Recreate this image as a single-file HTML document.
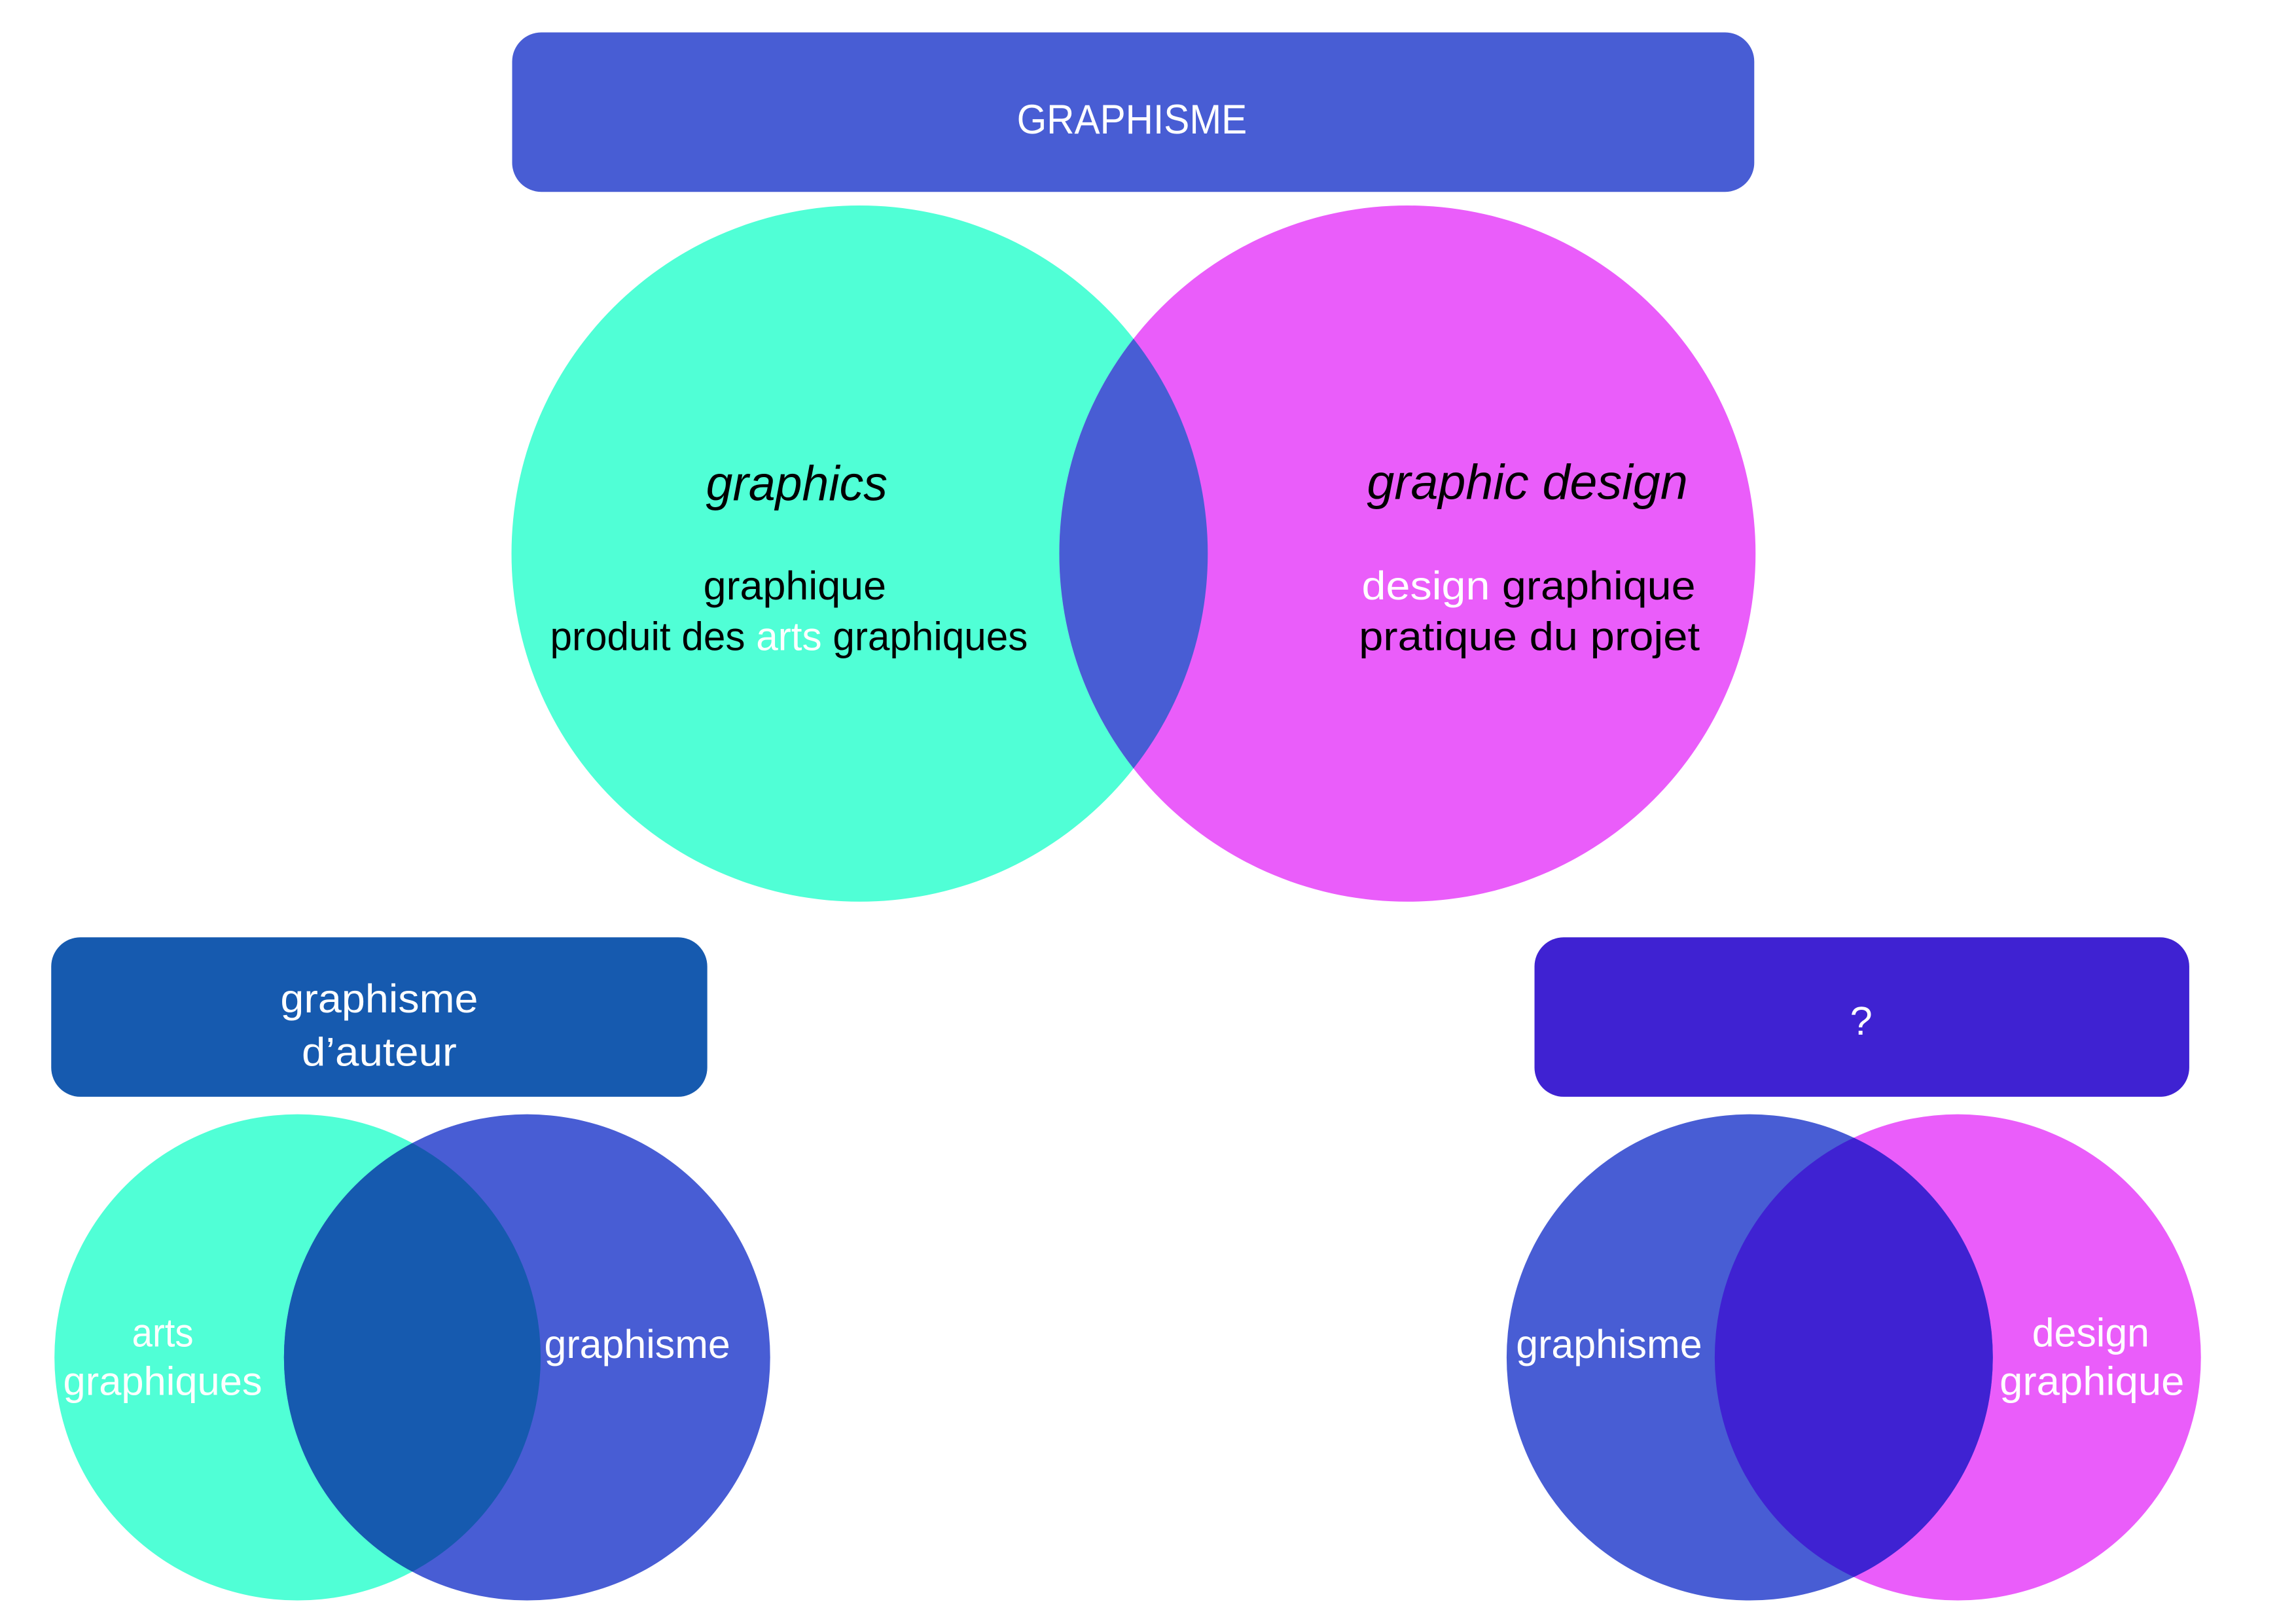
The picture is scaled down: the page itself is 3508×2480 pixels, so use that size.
<!DOCTYPE html>
<html><head><meta charset="utf-8"><style>html,body{margin:0;padding:0;background:#fff}svg{display:block}</style></head>
<body>
<svg width="3508" height="2480" viewBox="0 0 3508 2480" xmlns="http://www.w3.org/2000/svg" font-family="'Liberation Sans', sans-serif">
<defs>
<clipPath id="cT"><circle cx="1326" cy="854" r="537"/></clipPath>
<clipPath id="cL"><circle cx="459" cy="2094" r="375"/></clipPath>
<clipPath id="cR"><circle cx="2699" cy="2094" r="375"/></clipPath>
</defs>
<g transform="scale(0.9905)">
<rect x="790" y="50" width="1916" height="246" rx="45" fill="#485DD4"/>
<rect x="79" y="1446" width="1012" height="246" rx="45" fill="#165AAF"/>
<rect x="2367" y="1446" width="1010" height="246" rx="45" fill="#3F22D2"/>

<circle cx="1326" cy="854" r="537" fill="#50FFD6"/>
<circle cx="2171" cy="854" r="537" fill="#EA5DFA"/>
<circle cx="2171" cy="854" r="537" fill="#485DD4" clip-path="url(#cT)"/>

<circle cx="459" cy="2094" r="375" fill="#50FFD6"/>
<circle cx="813" cy="2094" r="375" fill="#485DD4"/>
<circle cx="813" cy="2094" r="375" fill="#165AAF" clip-path="url(#cL)"/>

<circle cx="3020" cy="2094" r="375" fill="#EA5DFA"/>
<circle cx="2699" cy="2094" r="375" fill="#485DD4"/>
<circle cx="3020" cy="2094" r="375" fill="#3F22D2" clip-path="url(#cR)"/>

<g text-anchor="middle" font-size="62">
<text x="1746" y="206" fill="#fff" font-size="64" textLength="355" lengthAdjust="spacingAndGlyphs">GRAPHISME</text>
<text x="1229" y="772" fill="#000" font-size="76" font-style="italic" textLength="280" lengthAdjust="spacingAndGlyphs">graphics</text>
<text x="1226" y="925" fill="#000" textLength="282" lengthAdjust="spacingAndGlyphs">graphique</text>
<text x="1217" y="1003" fill="#000" textLength="737" lengthAdjust="spacingAndGlyphs">produit des <tspan fill="#fff">arts</tspan> graphiques</text>
<text x="2356" y="770" fill="#000" font-size="76" font-style="italic" textLength="495" lengthAdjust="spacingAndGlyphs">graphic design</text>
<text x="2358" y="925" fill="#000" textLength="515" lengthAdjust="spacingAndGlyphs"><tspan fill="#fff">design</tspan> graphique</text>
<text x="2359" y="1003" fill="#000" textLength="526" lengthAdjust="spacingAndGlyphs">pratique du projet</text>
<text x="585" y="1562" fill="#fff" textLength="305" lengthAdjust="spacingAndGlyphs">graphisme</text>
<text x="585" y="1644" fill="#fff" textLength="239" lengthAdjust="spacingAndGlyphs">d’auteur</text>
<text x="2871" y="1596" fill="#fff">?</text>
<text x="251" y="2077" fill="#fff" textLength="95" lengthAdjust="spacingAndGlyphs">arts</text>
<text x="251" y="2152" fill="#fff" textLength="307" lengthAdjust="spacingAndGlyphs">graphiques</text>
<text x="983" y="2095" fill="#fff" textLength="287" lengthAdjust="spacingAndGlyphs">graphisme</text>
<text x="2482" y="2095" fill="#fff" textLength="287" lengthAdjust="spacingAndGlyphs">graphisme</text>
<text x="3225" y="2077" fill="#fff" textLength="181" lengthAdjust="spacingAndGlyphs">design</text>
<text x="3227" y="2152" fill="#fff" textLength="285" lengthAdjust="spacingAndGlyphs">graphique</text>
</g>
</g>
</svg>
</body></html>
